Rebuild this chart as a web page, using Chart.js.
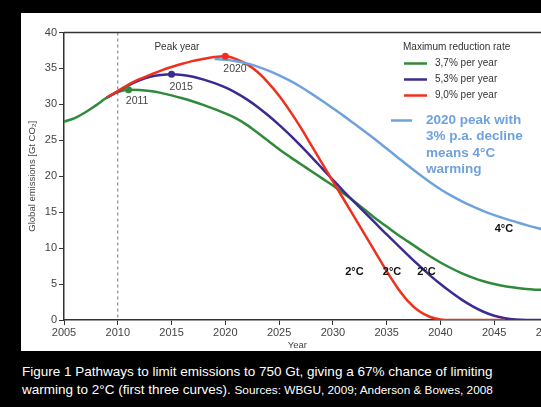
<!DOCTYPE html>
<html lang="en">
<head>
    <meta charset="UTF-8">
    <title>Pathways to limit emissions</title>
    <script src="https://cdn.jsdelivr.net/npm/chart.js"></script>
    <style>
        html, body {
            margin: 0;
            padding: 0;
            width: 541px;
            height: 407px;
            overflow: hidden;
            background-color: #000;
            font-family: 'Liberation Sans', Arial, sans-serif;
        }

        .chart-box {
            position: absolute;
            left: 21px;
            top: 13px;
            width: 560px;
            height: 338px;
            background-color: #fff;
        }

        .caption {
            position: absolute;
            left: 22px;
            top: 363px;
            color: #fff;
            font-size: 13.5px;
            line-height: 18px;
            white-space: nowrap;
        }

        .caption small {
            font-size: 11.8px;
        }
    </style>
</head>
<body>
<div class="chart-box">
    <canvas id="chart"></canvas>
</div>
<div class="caption">
    Figure 1 Pathways to limit emissions to 750 Gt, giving a 67% chance of limiting<br>
    warming to 2°C (first three curves). <small>Sources: WBGU, 2009; Anderson &amp; Bowes, 2008</small>
</div>
<script>
    // Years on the x axis (shared by all curves)
    const years = [2005, 2006, 2007, 2008, 2009, 2010, 2011, 2012, 2013, 2014,
                   2015, 2016, 2017, 2018, 2019, 2020, 2021, 2022, 2023, 2024,
                   2025, 2026, 2027, 2028, 2029, 2030, 2031, 2032, 2033, 2034,
                   2035, 2036, 2037, 2038, 2039, 2040, 2041, 2042, 2043, 2044,
                   2045, 2046, 2047, 2048, 2049, 2050];

    // Global emissions [Gt CO2]
    const rate37 = [27.6, 28.1, 28.9, 29.9, 30.95, 31.7, 32.05, 32.0, 31.85, 31.6,
                    31.25, 30.85, 30.4, 29.9, 29.35, 28.75, 28.05, 27.15, 26.05, 24.9,
                    23.75, 22.7, 21.7, 20.7, 19.7, 18.7, 17.6, 16.5, 15.3, 14.1,
                    13.0, 11.9, 10.9, 9.9, 8.9, 8.0, 7.2, 6.5, 5.9, 5.4,
                    5.0, 4.7, 4.5, 4.3, 4.2, 4.2];
    const rate53 = [null, null, null, null, 30.95, 31.8, 32.65, 33.35, 33.85, 34.1,
                    34.2, 34.1, 33.85, 33.45, 32.95, 32.35, 31.6, 30.7, 29.65, 28.45,
                    27.15, 25.75, 24.25, 22.7, 21.1, 19.5, 17.9, 16.4, 14.9, 13.4,
                    11.9, 10.45, 9.0, 7.6, 6.25, 5.0, 3.85, 2.8, 1.9, 1.15,
                    0.6, 0.25, 0.06, 0, 0, 0];
    const rate90 = [null, null, null, null, 30.95, 31.85, 32.75, 33.5, 34.1, 34.7,
                    35.2, 35.65, 36.05, 36.35, 36.6, 36.7, 36.3, 35.6, 34.5, 33.0,
                    31.2, 29.1, 26.8, 24.3, 21.8, 19.3, 16.8, 14.3, 11.8, 9.3,
                    6.8, 4.5, 2.6, 1.25, 0.45, 0.08, 0, 0, 0, 0,
                    0, 0, null, null, null, null];
    const peak2020 = [null, null, null, null, null, null, null, null, null, null,
                      null, null, null, null, 36.3, 36.2, 36.0, 35.7, 35.25, 34.7,
                      34.05, 33.3, 32.45, 31.5, 30.5, 29.45, 28.4, 27.3, 26.2, 25.05,
                      23.85, 22.65, 21.45, 20.3, 19.2, 18.2, 17.3, 16.5, 15.8, 15.15,
                      14.6, 14.1, 13.65, 13.2, 12.8, 12.45];

    // Peak-year markers
    const peakYears = [2011, 2015, 2020];
    const peakValues = [32.05, 34.2, 36.7];

    const colGreen = '#2f8a3c';
    const colPurple = '#3b2b92';
    const colRed = '#f0301c';
    const colBlue = '#6fa2db';
    const peakColors = [colGreen, colPurple, colRed];

    function toPoints(values) {
        return years.map((y, i) => ({ x: y, y: values[i] }));
    }

    // Texts placed in data coordinates
    const notes = [
        { text: 'Peak year', x: 2015.5, y: 38.0, font: '10px', color: '#333' },
        { text: '2011', x: 2011.8, y: 30.5, font: '10.5px', color: '#444' },
        { text: '2015', x: 2015.9, y: 32.4, font: '10.5px', color: '#444' },
        { text: '2020', x: 2020.9, y: 34.9, font: '10.5px', color: '#444' },
        { text: '2°C', x: 2032.0, y: 6.7, font: 'bold 11px', color: '#111' },
        { text: '2°C', x: 2035.5, y: 6.7, font: 'bold 11px', color: '#111' },
        { text: '2°C', x: 2038.7, y: 6.7, font: 'bold 11px', color: '#111' },
        { text: '4°C', x: 2045.9, y: 12.6, font: 'bold 11px', color: '#111' }
    ];

    const legendRows = [
        { label: '3,7% per year', color: colGreen },
        { label: '5,3% per year', color: colPurple },
        { label: '9,0% per year', color: colRed }
    ];
    const blueNote = ['2020 peak with', '3% p.a. decline', 'means 4°C', 'warming'];

    const FONT = "'Liberation Sans', Arial, sans-serif";

    const decorPlugin = {
        id: 'decor',
        beforeDatasetsDraw(chart) {
            const ctx = chart.ctx;
            const area = chart.chartArea;
            const xs = chart.scales.x;
            ctx.save();
            // dashed 2010 line
            ctx.strokeStyle = '#777';
            ctx.lineWidth = 1;
            ctx.setLineDash([3, 3]);
            const x10 = xs.getPixelForValue(2010);
            ctx.beginPath();
            ctx.moveTo(x10, area.top);
            ctx.lineTo(x10, area.bottom);
            ctx.stroke();
            ctx.setLineDash([]);
            // top border
            ctx.strokeStyle = '#333';
            ctx.lineWidth = 1.5;
            ctx.beginPath();
            ctx.moveTo(area.left, area.top);
            ctx.lineTo(chart.width, area.top);
            ctx.stroke();
            ctx.restore();
        },
        afterDraw(chart) {
            const ctx = chart.ctx;
            const area = chart.chartArea;
            const xs = chart.scales.x;
            const ys = chart.scales.y;
            ctx.save();
            ctx.textBaseline = 'middle';
            ctx.textAlign = 'center';
            notes.forEach(n => {
                ctx.font = n.font + ' ' + FONT;
                ctx.fillStyle = n.color;
                ctx.fillText(n.text, xs.getPixelForValue(n.x), ys.getPixelForValue(n.y));
            });

            // axis titles
            ctx.fillStyle = '#444';
            ctx.font = '9.5px ' + FONT;
            ctx.fillText('Year', xs.getPixelForValue(2026.7), 332);
            ctx.save();
            ctx.translate(11, (area.top + area.bottom) / 2);
            ctx.rotate(-Math.PI / 2);
            ctx.fillText('Global emissions [Gt CO\u2082]', 0, 0);
            ctx.restore();

            // legend
            ctx.textAlign = 'left';
            ctx.fillStyle = '#333';
            ctx.font = '10px ' + FONT;
            ctx.fillText('Maximum reduction rate', 382, 34.5);
            legendRows.forEach((r, i) => {
                const y = 50.5 + i * 16;
                ctx.strokeStyle = r.color;
                ctx.lineWidth = 2.5;
                ctx.beginPath();
                ctx.moveTo(383, y);
                ctx.lineTo(406, y);
                ctx.stroke();
                ctx.fillStyle = '#333';
                ctx.fillText(r.label, 414, y);
            });

            ctx.strokeStyle = colBlue;
            ctx.lineWidth = 2.5;
            ctx.beginPath();
            ctx.moveTo(370, 107.5);
            ctx.lineTo(391, 107.5);
            ctx.stroke();
            ctx.fillStyle = colBlue;
            ctx.font = 'bold 13.5px ' + FONT;
            blueNote.forEach((t, i) => {
                ctx.fillText(t, 405, 107.5 + i * 16.2);
            });
            ctx.restore();
        }
    };

    Chart.defaults.font.family = FONT;
    Chart.defaults.color = '#333';

    const lineStyle = {
        pointRadius: 0,
        borderWidth: 2.5,
        fill: false,
        cubicInterpolationMode: 'monotone',
        spanGaps: false
    };

    new Chart(document.getElementById('chart').getContext('2d'), {
        type: 'line',
        data: {
            datasets: [
                {
                    label: 'Peak year',
                    data: peakYears.map((y, i) => ({ x: y, y: peakValues[i] })),
                    showLine: false,
                    pointRadius: 3.5,
                    pointBackgroundColor: peakColors,
                    pointBorderColor: peakColors,
                    pointBorderWidth: 0
                },
                Object.assign({ label: '2020 peak, 3% p.a.', data: toPoints(peak2020), borderColor: colBlue }, lineStyle),
                Object.assign({ label: '9,0% per year', data: toPoints(rate90), borderColor: colRed }, lineStyle),
                Object.assign({ label: '5,3% per year', data: toPoints(rate53), borderColor: colPurple }, lineStyle),
                Object.assign({ label: '3,7% per year', data: toPoints(rate37), borderColor: colGreen }, lineStyle)
            ]
        },
        options: {
            responsive: true,
            maintainAspectRatio: false,
            animation: false,
            layout: { padding: { left: 0, top: 19.5, right: 33, bottom: 0 } },
            plugins: {
                legend: { display: false },
                tooltip: { enabled: false }
            },
            scales: {
                x: {
                    type: 'linear',
                    min: 2005,
                    max: 2050,
                    afterFit: s => { s.height = 31; },
                    ticks: {
                        stepSize: 5,
                        padding: 1,
                        color: '#444',
                        font: { size: 11 },
                        maxRotation: 0,
                        callback: v => String(v)
                    },
                    grid: { drawOnChartArea: false, drawTicks: true, tickLength: 5, color: '#333' },
                    border: { display: true, color: '#333', width: 1.5 }
                },
                y: {
                    min: 0,
                    max: 40,
                    afterFit: s => { s.width = 43; },
                    ticks: {
                        stepSize: 5,
                        padding: 2,
                        color: '#444',
                        font: { size: 11 }
                    },
                    grid: { drawOnChartArea: false, drawTicks: true, tickLength: 5, color: '#333' },
                    border: { display: true, color: '#333', width: 1.5 }
                }
            }
        },
        plugins: [decorPlugin]
    });
</script>
</body>
</html>
